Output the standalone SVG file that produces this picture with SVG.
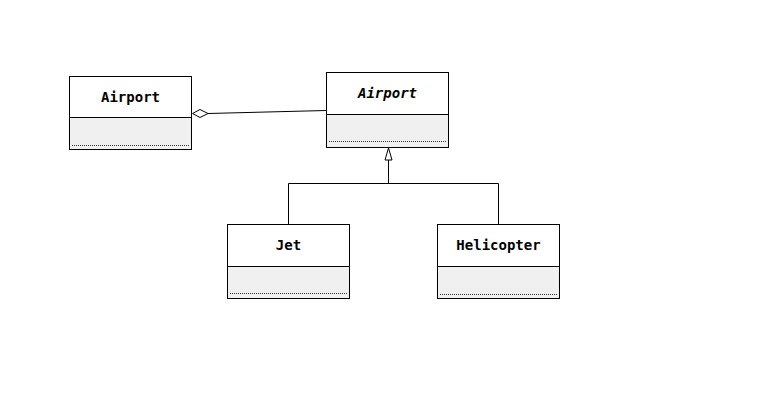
<svg xmlns="http://www.w3.org/2000/svg" width="782" height="407" viewBox="0 0 782 407">
<style>
.box{fill:#ffffff;stroke:#000;stroke-width:1}
.comp{fill:#f0f0f0;stroke:#000;stroke-width:1}
.dash{stroke:#333;stroke-width:1;stroke-dasharray:1 1;fill:none}
.lbl{font-family:"DejaVu Sans Mono","Liberation Mono",monospace;font-size:14px;font-weight:bold;text-anchor:middle;fill:#000}
.it{font-style:italic}
.edge{stroke:#000;stroke-width:1;fill:none}
</style>
<rect width="782" height="407" fill="#ffffff"/>
<g id="connectors">
<line class="edge" x1="208" y1="113.5" x2="326" y2="110.5"/>
<polygon points="192.5,113.5 200,109.5 208,113.5 200,117.5" fill="#fff" stroke="#000" stroke-width="1"/>
<polyline class="edge" points="288.5,224 288.5,183.5 498.5,183.5 498.5,224"/>
<line class="edge" x1="388.5" y1="160" x2="388.5" y2="183.5"/>
<polygon points="388.5,148 385,160 392,160" fill="#fff" stroke="#000" stroke-width="1"/>
</g>
<g id="airport-client">
<rect class="box" x="69.5" y="76.5" width="122" height="41"/>
<rect class="comp" x="69.5" y="117.5" width="122" height="32"/>
<line class="dash" x1="72" y1="145.5" x2="189" y2="145.5"/>
<text class="lbl" x="130.5" y="102">Airport</text>
</g>
<g id="airport-abstract">
<rect class="box" x="326.5" y="72.5" width="122" height="42"/>
<rect class="comp" x="326.5" y="114.5" width="122" height="33"/>
<line class="dash" x1="329" y1="141.5" x2="446" y2="141.5"/>
<text class="lbl it" x="387.5" y="98">Airport</text>
</g>
<g id="jet">
<rect class="box" x="227.5" y="224.5" width="122" height="42"/>
<rect class="comp" x="227.5" y="266.5" width="122" height="32"/>
<line class="dash" x1="230" y1="293.5" x2="347" y2="293.5"/>
<text class="lbl" x="288.5" y="250">Jet</text>
</g>
<g id="helicopter">
<rect class="box" x="437.5" y="224.5" width="122" height="42"/>
<rect class="comp" x="437.5" y="266.5" width="122" height="32"/>
<line class="dash" x1="440" y1="294.5" x2="557" y2="294.5"/>
<text class="lbl" x="498.5" y="250">Helicopter</text>
</g>
</svg>
